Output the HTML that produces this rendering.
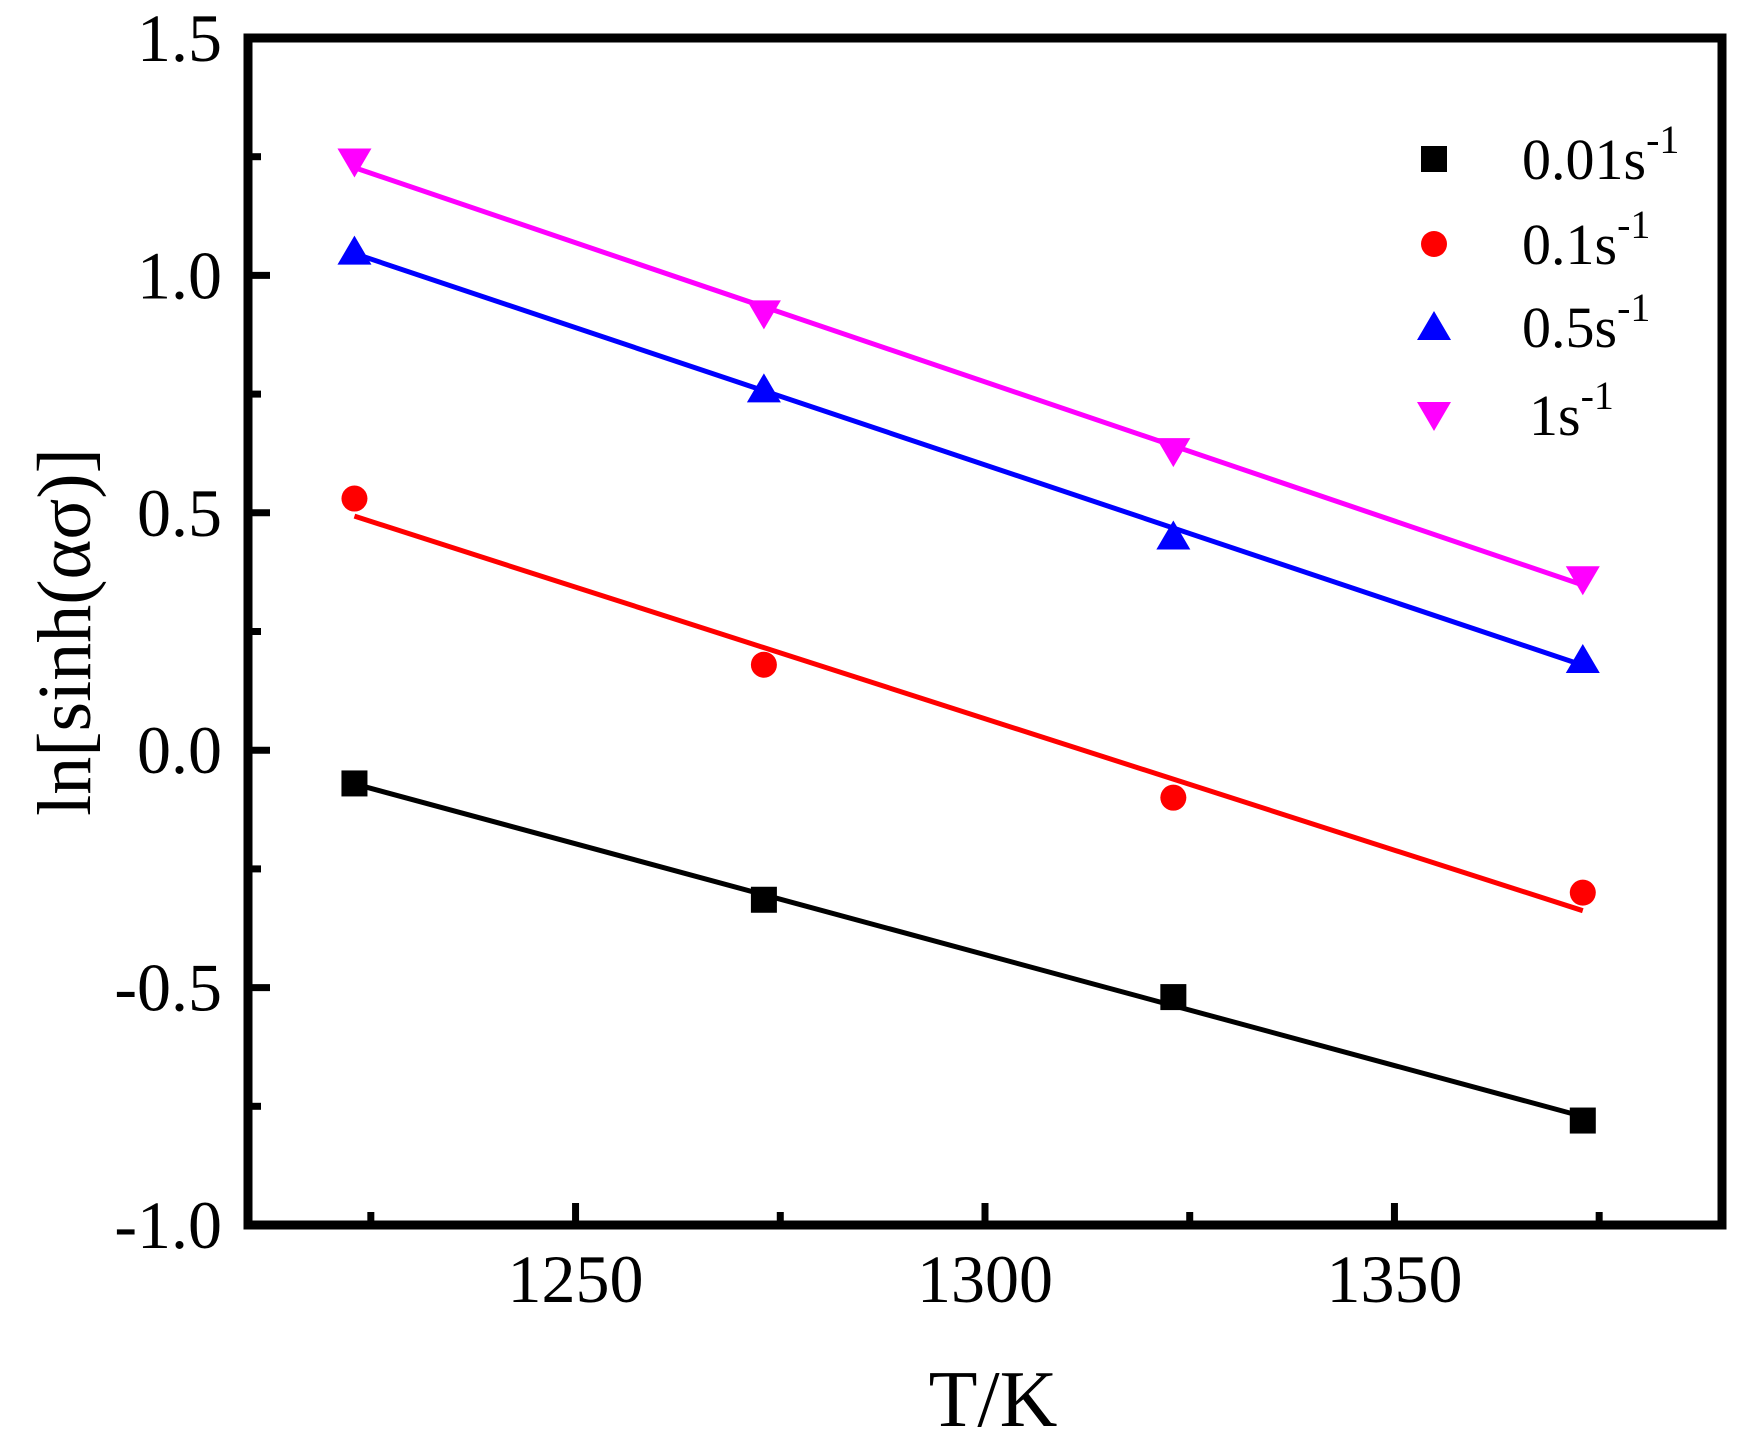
<!DOCTYPE html>
<html><head><meta charset="utf-8"><style>
html,body{margin:0;padding:0;background:#fff;}
svg{display:block;}
text{font-family:"Liberation Serif","DejaVu Serif",serif;fill:#000;}
</style></head><body>
<svg id="chart" width="1753" height="1449" viewBox="0 0 1753 1449" xmlns="http://www.w3.org/2000/svg">
<g id="grid-layer"></g>
</svg>
<script>
const xCategories = [1223, 1273, 1323, 1373];
const series001 = [-0.07, -0.315, -0.52, -0.78];
const series01 = [0.53, 0.18, -0.10, -0.30];
const series05 = [1.05, 0.76, 0.45, 0.19];
const series1 = [1.24, 0.92, 0.63, 0.36];
const seriesNames = ["0.01s", "0.1s", "0.5s", "1s"];
const xTickLabels = [1250, 1300, 1350];
const yTickLabels = [-1.0, -0.5, 0.0, 0.5, 1.0, 1.5];

const L=248,R=1722,T=38,B=1225;
const X0=1210,X1=1390,Y0=-1,Y1=1.5;
function sx(v){return L+(v-X0)/(X1-X0)*(R-L);}
function sy(v){return B-(v-Y0)/(Y1-Y0)*(B-T);}
const NS="http://www.w3.org/2000/svg";
const svg=document.getElementById('chart');
function mk(tag,attrs,parent){const e=document.createElementNS(NS,tag);for(const k in attrs)e.setAttribute(k,attrs[k]);(parent||svg).appendChild(e);return e;}

const colors=["#000000","#ff0000","#0000ff","#ff00ff"];
const shapes=["square","circle","up","down"];
const allSeries=[series001,series01,series05,series1];

function marker(shape,cx,cy,color,name,parent){
  let e;
  if(shape==="square"){e=mk('rect',{x:cx-13,y:cy-13,width:26,height:26,fill:color},parent);}
  else if(shape==="circle"){e=mk('circle',{cx:cx,cy:cy,r:13,fill:color},parent);}
  else if(shape==="up"){e=mk('polygon',{points:`${cx},${cy-16} ${cx+17},${cy+13} ${cx-17},${cy+13}`,fill:color},parent);}
  else {e=mk('polygon',{points:`${cx-17},${cy-13} ${cx+17},${cy-13} ${cx},${cy+16}`,fill:color},parent);}
  
  
  return e;
}

allSeries.forEach((ys,i)=>{
  const n=xCategories.length;
  const mx=xCategories.reduce((a,b)=>a+b,0)/n, my=ys.reduce((a,b)=>a+b,0)/n;
  let sxy=0,sxx=0;
  for(let j=0;j<n;j++){sxy+=(xCategories[j]-mx)*(ys[j]-my);sxx+=(xCategories[j]-mx)**2;}
  const m=sxy/sxx;
  const xa=xCategories[0],xb=xCategories[n-1];
  const ln=mk('line',{x1:sx(xa),y1:sy(my+m*(xa-mx)),x2:sx(xb),y2:sy(my+m*(xb-mx)),stroke:colors[i],'stroke-width':5});
  
  
  for(let j=0;j<n;j++){
    marker(shapes[i],sx(xCategories[j]),sy(ys[j]),colors[i],'point-'+seriesNames[i].replace('.','-')+'-'+j);
  }
});

const fr=mk('rect',{x:L,y:T,width:R-L,height:B-T,fill:'none',stroke:'#000','stroke-width':9});



xTickLabels.forEach(v=>{
  const t=mk('line',{x1:sx(v),y1:B,x2:sx(v),y2:B-22,stroke:'#000','stroke-width':7});
  
  
  const tx=mk('text',{x:sx(v),y:1302,'font-size':68,'text-anchor':'middle'});
  tx.textContent=v;
  
  
});
xTickLabels.concat([1400]).forEach(v=>{
  const mv=v-25;
  const t=mk('line',{x1:sx(mv),y1:B,x2:sx(mv),y2:B-13,stroke:'#000','stroke-width':7});
  
  
});

yTickLabels.forEach((v,i)=>{
  const t=mk('line',{x1:L,y1:sy(v),x2:L+22,y2:sy(v),stroke:'#000','stroke-width':7});
  
  
  const tx=mk('text',{x:222,y:sy(v)+23,'font-size':68,'text-anchor':'end'});
  tx.textContent=v.toFixed(1);
  
  
  if(i<yTickLabels.length-1){
    const m=mk('line',{x1:L,y1:sy(v+0.25),x2:L+13,y2:sy(v+0.25),stroke:'#000','stroke-width':7});
    
    
  }
});

{const t=mk('text',{x:993,y:1426,'font-size':80,'text-anchor':'middle'});
t.textContent='T/K';

}
{const t=mk('text',{x:0,y:0,'font-size':76,'text-anchor':'middle',transform:'translate(90,632) rotate(-90)'});
t.textContent='ln[sinh(ασ)]';

}

const legY=[159,244,327,415];
seriesNames.forEach((nm,i)=>{
  const g=mk('g',{});
  
  
  marker(shapes[i],1434,legY[i],colors[i],'legend-marker',g);
  const tx=mk('text',{x:i===3?1529:1522,y:legY[i]+20,'font-size':58},g);
  
  
  tx.appendChild(document.createTextNode(nm));
  const sup=mk('tspan',{dy:-26,'font-size':40},tx);
  sup.textContent='-1';
});
</script>
</body></html>
